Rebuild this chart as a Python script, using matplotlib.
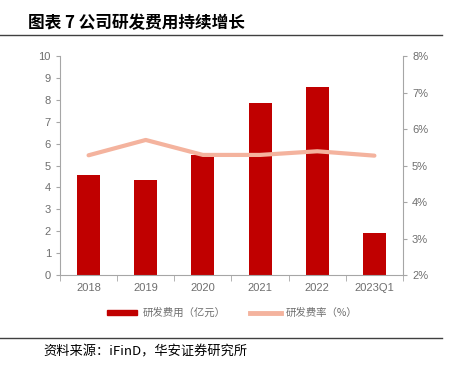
import matplotlib.pyplot as plt
from matplotlib.lines import Line2D
from matplotlib.patches import Patch

plt.rcParams['font.family'] = ['Noto Sans CJK SC', 'DejaVu Sans']

years = ['2018', '2019', '2020', '2021', '2022', '2023Q1']
rd_expense = [4.57, 4.34, 5.48, 7.85, 8.58, 1.92]   # 亿元
rd_ratio = [5.28, 5.70, 5.29, 5.29, 5.39, 5.27]     # %

gray = '#6E6E6E'
spine = '#A6A6A6'
num_font = ['Liberation Sans', 'DejaVu Sans']

fig = plt.figure(figsize=(4.52, 3.68), dpi=100)
ax = fig.add_axes([0.1327, 0.2527, 0.7589, 0.5951])
ax2 = ax.twinx()

x = range(len(years))
ax.bar(x, rd_expense, width=0.4, color='#C00000', zorder=2)
ax2.plot(x, rd_ratio, color='#F4B39E', lw=3, solid_capstyle='round', zorder=3)

ax.set_xlim(-0.5, len(years) - 0.5)
ax.set_ylim(0, 10)
ax.set_yticks(range(0, 11))
ax2.set_ylim(2, 8)
ax2.set_yticks(range(2, 9))
ax2.set_yticklabels([f'{v}%' for v in range(2, 9)])

ax.set_xticks(list(x))
ax.set_xticklabels(years)
ax.set_xticks([i + 0.5 for i in range(-1, len(years))], minor=True)
ax.tick_params(axis='x', which='major', length=0, pad=6)
ax.tick_params(axis='x', which='minor', length=4, color=spine, direction='out')

for a in (ax, ax2):
    for s in a.spines.values():
        s.set_visible(False)
    a.tick_params(axis='y', colors=gray, labelsize=8, length=3, direction='out')
    a.tick_params(axis='y', color=spine)
ax.tick_params(axis='x', colors=gray, labelsize=8)
ax.tick_params(axis='x', which='minor', color=spine)
for lab in ax.get_xticklabels() + ax.get_yticklabels() + ax2.get_yticklabels():
    lab.set_family(num_font)
ax.spines['left'].set_visible(True)
ax.spines['left'].set_color(spine)
ax.spines['bottom'].set_visible(True)
ax.spines['bottom'].set_color(spine)
ax2.spines['right'].set_visible(True)
ax2.spines['right'].set_color(spine)
ax.set_zorder(ax2.get_zorder() - 1)
ax2.patch.set_visible(False)

handles = [Patch(color='#C00000'), Line2D([], [], color='#F4B39E', lw=3.5)]
fig.legend(handles, ['研发费用（亿元）', '研发费率（%）'], loc='center',
           bbox_to_anchor=(0.514, 0.149), ncol=2, frameon=False,
           fontsize=7.5, labelcolor=gray, handlelength=2.9, handleheight=0.45,
           columnspacing=2.4, handletextpad=0.5)

fig.text(0.062, 0.938, '图表 7 公司研发费用持续增长', fontsize=12, fontweight='bold',
         va='center', ha='left', color='#000000')
fig.add_artist(Line2D([0, 0.978], [0.905, 0.905], color='#404040', lw=1))
fig.add_artist(Line2D([0, 0.978], [0.082, 0.082], color='#404040', lw=1))
fig.text(0.095, 0.043, '资料来源：iFinD，华安证券研究所', fontsize=9.5,
         va='center', ha='left', color='#000000')

fig.savefig('out.png', dpi=100)
